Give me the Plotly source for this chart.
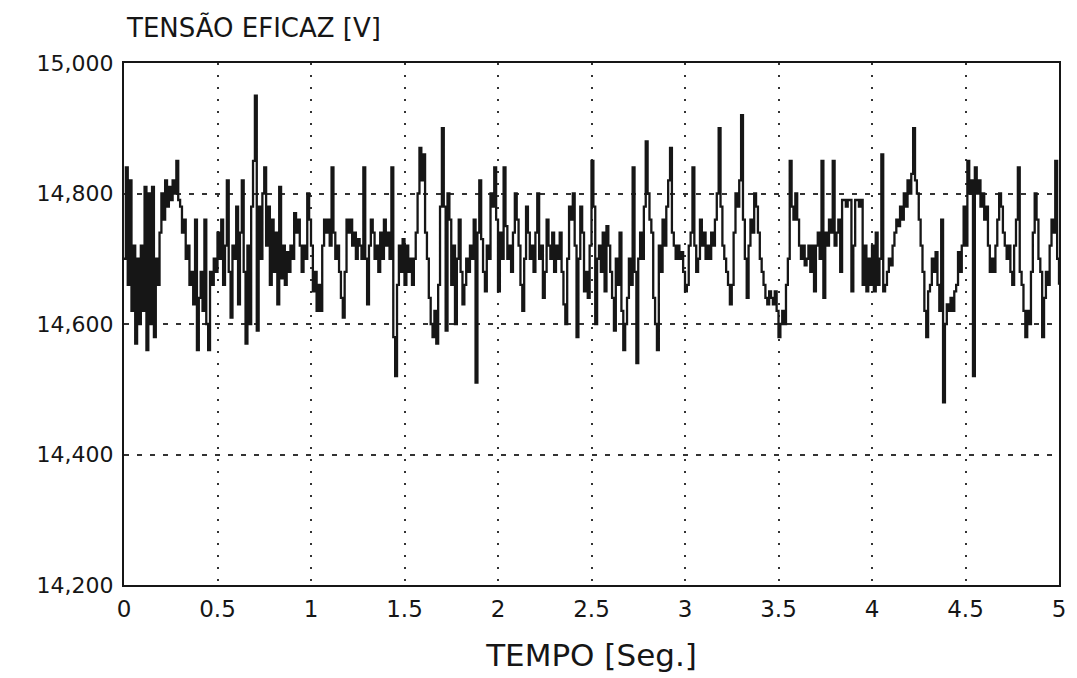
import plotly.graph_objects as go

# time step 0.01 s, 0..5 s
t_start = 0.0
t_step = 0.01

tensao = [
    14.70, 14.84, 14.66, 14.82, 14.62, 14.72, 14.57, 14.70, 14.60, 14.72,
    14.62, 14.81, 14.56, 14.80, 14.60, 14.81, 14.58, 14.70, 14.66, 14.74,
    14.80, 14.76, 14.82, 14.78, 14.81, 14.79, 14.82, 14.80, 14.85, 14.79,
    14.78, 14.74, 14.76, 14.70, 14.72, 14.66, 14.68, 14.63, 14.76, 14.56,
    14.64, 14.68, 14.62, 14.76, 14.60, 14.56, 14.68, 14.66, 14.70, 14.68,
    14.74, 14.70, 14.76, 14.66, 14.72, 14.82, 14.68, 14.61, 14.72, 14.70,
    14.78, 14.63, 14.74, 14.82, 14.68, 14.57, 14.72, 14.60, 14.78, 14.85,
    14.95, 14.59, 14.78, 14.70, 14.80, 14.84, 14.72, 14.78, 14.66, 14.76,
    14.68, 14.74, 14.63, 14.81, 14.67, 14.72, 14.66, 14.71, 14.68, 14.72,
    14.70, 14.77, 14.74, 14.76, 14.72, 14.68, 14.72, 14.70, 14.80, 14.76,
    14.72, 14.65, 14.68, 14.62, 14.66, 14.62, 14.72, 14.76, 14.74, 14.76,
    14.72, 14.84, 14.74, 14.70, 14.72, 14.68, 14.64, 14.61, 14.68, 14.76,
    14.74, 14.76, 14.72, 14.74, 14.70, 14.73, 14.72, 14.70, 14.84, 14.70,
    14.63, 14.72, 14.76, 14.74, 14.70, 14.72, 14.68, 14.74, 14.70, 14.76,
    14.72, 14.74, 14.70, 14.84, 14.58, 14.52, 14.66, 14.72, 14.68, 14.73,
    14.66, 14.72, 14.68, 14.70, 14.66, 14.70, 14.74, 14.80, 14.87, 14.82,
    14.86, 14.74, 14.70, 14.64, 14.60, 14.58, 14.62, 14.57, 14.66, 14.78,
    14.90, 14.78, 14.59, 14.80, 14.76, 14.66, 14.72, 14.60, 14.70, 14.76,
    14.68, 14.63, 14.66, 14.70, 14.68, 14.72, 14.70, 14.76, 14.51, 14.74,
    14.82, 14.73, 14.68, 14.65, 14.72, 14.70, 14.80, 14.78, 14.84, 14.76,
    14.65, 14.74, 14.70, 14.84, 14.75, 14.70, 14.72, 14.68, 14.74, 14.80,
    14.76, 14.72, 14.66, 14.62, 14.70, 14.78, 14.74, 14.70, 14.72, 14.68,
    14.74, 14.80, 14.70, 14.72, 14.64, 14.68, 14.76, 14.72, 14.70, 14.74,
    14.68, 14.72, 14.70, 14.74, 14.68, 14.63, 14.60, 14.70, 14.78, 14.76,
    14.80, 14.72, 14.58, 14.70, 14.78, 14.74, 14.65, 14.68, 14.64, 14.72,
    14.85, 14.78, 14.60, 14.70, 14.72, 14.68, 14.74, 14.65, 14.75, 14.72,
    14.68, 14.64, 14.59, 14.70, 14.66, 14.74, 14.62, 14.56, 14.60, 14.64,
    14.70, 14.66, 14.84, 14.68, 14.54, 14.70, 14.74, 14.70, 14.78, 14.88,
    14.80, 14.76, 14.74, 14.64, 14.60, 14.56, 14.72, 14.68, 14.76, 14.72,
    14.78, 14.82, 14.87, 14.74, 14.72, 14.70, 14.72, 14.70, 14.71, 14.68,
    14.65, 14.66, 14.72, 14.74, 14.84, 14.72, 14.68, 14.70, 14.76, 14.72,
    14.74, 14.70, 14.72, 14.70, 14.74, 14.72, 14.76, 14.80, 14.90, 14.78,
    14.72, 14.70, 14.68, 14.66, 14.63, 14.66, 14.74, 14.80, 14.78, 14.82,
    14.92, 14.76, 14.70, 14.64, 14.72, 14.76, 14.74, 14.80, 14.78, 14.74,
    14.70, 14.68, 14.66, 14.64, 14.63, 14.65, 14.64, 14.63, 14.65, 14.62,
    14.58, 14.60, 14.62, 14.60, 14.66, 14.70, 14.85, 14.78, 14.76, 14.80,
    14.76, 14.72, 14.70, 14.72, 14.69, 14.70, 14.72, 14.68, 14.72, 14.65,
    14.72, 14.74, 14.70, 14.85, 14.64, 14.74, 14.72, 14.76, 14.74, 14.85,
    14.72, 14.74, 14.76, 14.68, 14.79, 14.79, 14.78, 14.79, 14.79, 14.65,
    14.72, 14.79, 14.79, 14.78, 14.79, 14.66, 14.72, 14.65, 14.70, 14.66,
    14.72, 14.65, 14.74, 14.66, 14.70, 14.86, 14.65, 14.66, 14.68, 14.70,
    14.69, 14.72, 14.74, 14.76, 14.75, 14.78, 14.76, 14.80, 14.78, 14.82,
    14.80, 14.83, 14.90, 14.82, 14.80, 14.76, 14.72, 14.68, 14.62, 14.58,
    14.65, 14.66, 14.70, 14.68, 14.71, 14.66, 14.62, 14.76, 14.48, 14.60,
    14.63, 14.62, 14.64, 14.62, 14.65, 14.66, 14.71, 14.68, 14.72, 14.78,
    14.72, 14.85, 14.80, 14.82, 14.52, 14.84, 14.80, 14.82, 14.78, 14.80,
    14.76, 14.78, 14.72, 14.68, 14.70, 14.68, 14.72, 14.76, 14.80, 14.78,
    14.74, 14.72, 14.70, 14.72, 14.68, 14.66, 14.72, 14.76, 14.84, 14.68,
    14.66, 14.62, 14.58, 14.62, 14.60, 14.68, 14.74, 14.80, 14.76, 14.70,
    14.68, 14.58, 14.64, 14.68, 14.66, 14.72, 14.76, 14.74, 14.85, 14.70,
    14.66,
]
tempo = [round(t_start + i * t_step, 2) for i in range(len(tensao))]

x_ticks = [0, 0.5, 1, 1.5, 2, 2.5, 3, 3.5, 4, 4.5, 5]
x_tick_labels = ["0", "0.5", "1", "1.5", "2", "2.5", "3", "3.5", "4", "4.5", "5"]
y_ticks = [14.2, 14.4, 14.6, 14.8, 15.0]
y_tick_labels = ["14,200", "14,400", "14,600", "14,800", "15,000"]

title_text = "TENSÃO EFICAZ [V]"
x_title = "TEMPO [Seg.]"

font_family = "DejaVu Sans, Liberation Sans, Arial, sans-serif"
ink = "#161616"

fig = go.Figure()
fig.add_trace(go.Scatter(
    x=tempo, y=tensao, mode="lines",
    line=dict(color=ink, width=2.3, shape="hv"),
    showlegend=False, hoverinfo="x+y",
))

# page body has an 8px margin; the figure is sized so the page fits the window width
fig.update_layout(
    width=1061, height=670,
    paper_bgcolor="white", plot_bgcolor="white",
    margin=dict(l=116, r=8, t=55, b=93),
    font=dict(family=font_family, color=ink, size=23),
    annotations=[dict(
        text=title_text, xref="paper", yref="paper", x=0.0, y=1.0,
        xanchor="left", yanchor="bottom", yshift=18, showarrow=False,
        font=dict(family=font_family, size=26, color=ink),
    )],
)

fig.update_xaxes(
    range=[0, 5], tickvals=x_ticks, ticktext=x_tick_labels,
    showline=True, linecolor=ink, linewidth=2, mirror=True,
    showgrid=True, gridcolor="#333333", gridwidth=2, griddash="2px,10px",
    ticks="", ticklabelstandoff=2, zeroline=False,
    ticklabeloverflow="allow", automargin=False,
    tickfont=dict(size=23, family=font_family, color=ink),
    title=dict(text=x_title, font=dict(size=31, family=font_family, color=ink), standoff=24),
)
fig.update_yaxes(
    range=[14.2, 15.0], tickvals=y_ticks, ticktext=y_tick_labels,
    showline=True, linecolor=ink, linewidth=2, mirror=True,
    showgrid=True, gridcolor="#333333", gridwidth=2, griddash="5px,8px",
    ticks="", ticklabelstandoff=4, zeroline=False,
    tickfont=dict(size=22, family=font_family, color=ink),
)

fig.write_html("out.html")
